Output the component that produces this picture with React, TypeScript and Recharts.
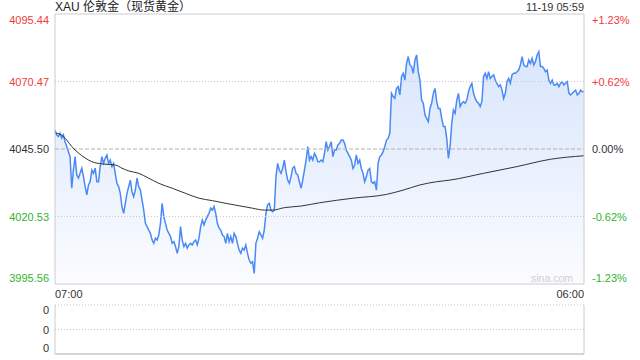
import { ComposedChart, Area, Line, XAxis, YAxis, ReferenceLine } from "recharts"

// XAU spot price, 07:00 -> 05:59 (one point every ~4 min)
const prices = [
  4052.5, 4050.7, 4050.1, 4051.3, 4049.5, 4050.7, 4048.2, 4046.4, 4044.5, 4042.7,
  4031.0, 4037.7, 4042.7, 4035.9, 4034.7, 4036.5, 4038.4, 4035.3, 4031.6, 4028.5,
  4032.2, 4033.4, 4037.7, 4036.5, 4038.4, 4033.4, 4033.4, 4039.0, 4042.7, 4040.2,
  4042.1, 4043.3, 4040.2, 4041.4, 4039.0, 4040.2, 4036.5, 4032.8, 4031.6, 4029.1,
  4024.2, 4021.7, 4025.4, 4029.1, 4031.6, 4034.0, 4029.7, 4027.9, 4030.3, 4034.7,
  4031.6, 4030.3, 4026.6, 4022.9, 4018.0, 4016.8, 4015.5, 4014.3, 4011.8, 4010.6,
  4012.5, 4011.8, 4013.7, 4018.0, 4025.4, 4020.5, 4018.0, 4015.5, 4014.3, 4013.1,
  4010.6, 4011.2, 4009.4, 4006.9, 4009.4, 4016.8, 4011.8, 4009.4,
  4010.6, 4008.8, 4010.0, 4010.6, 4010.0, 4011.2, 4011.8, 4010.0, 4012.5, 4016.8,
  4019.2, 4017.4, 4019.2, 4020.5, 4021.7, 4023.6, 4022.9, 4024.2, 4021.7, 4018.0,
  4016.2, 4015.5, 4013.7, 4013.1, 4010.6, 4014.3, 4011.2, 4013.1, 4010.6, 4014.3,
  4013.1, 4010.6, 4008.1, 4006.9, 4008.8, 4008.1, 4010.0, 4006.9, 4004.4, 4003.2,
  4003.8, 3999.5, 4010.6, 4012.5, 4014.9, 4013.7, 4012.5, 4015.5, 4021.7, 4024.8,
  4025.4, 4022.9, 4022.3, 4022.9, 4035.3, 4040.2, 4037.7, 4036.5, 4038.4, 4041.4,
  4037.1, 4034.0, 4032.8, 4035.3, 4038.4, 4039.0, 4036.5, 4035.9, 4033.4, 4031.0,
  4034.0, 4037.7, 4041.4, 4046.4, 4041.4, 4042.7, 4041.4, 4043.9, 4042.7, 4040.8,
  4040.8,
  4041.4, 4040.8, 4043.9, 4048.2, 4045.1, 4046.4, 4048.2, 4042.7, 4045.1, 4045.1,
  4047.0, 4047.6, 4048.8, 4048.8, 4047.6, 4045.1, 4043.9, 4042.7, 4041.4, 4038.3,
  4039.6, 4043.3, 4040.2, 4041.4, 4038.3, 4036.5, 4033.4, 4035.3, 4037.7, 4038.3,
  4033.4, 4032.8, 4033.4, 4030.3, 4040.2, 4042.7, 4043.3, 4044.5, 4046.4, 4048.8,
  4049.4, 4051.3, 4066.1, 4064.9, 4064.2, 4067.9, 4068.6, 4065.5, 4072.3, 4073.5,
  4071.0, 4077.2, 4079.7, 4076.6, 4076.0, 4073.5, 4078.4, 4080.3, 4074.1, 4071.0,
  4063.6, 4062.4, 4058.1, 4056.8, 4055.6, 4060.5, 4062.4, 4066.1, 4067.9, 4063.0,
  4060.5, 4060.5, 4056.8, 4053.8, 4053.8, 4049.4, 4042.0,
  4046.4, 4055.0, 4059.9, 4058.7, 4063.6, 4066.1, 4061.2, 4062.4, 4063.0, 4062.4,
  4063.6, 4066.7, 4068.6, 4069.8, 4066.1, 4064.2, 4063.0, 4062.4, 4061.2, 4063.0,
  4072.3, 4073.5, 4071.6, 4074.1, 4071.6, 4072.3, 4072.9, 4071.0, 4069.8, 4068.6,
  4069.2, 4067.3, 4064.2, 4066.1, 4070.4, 4071.6, 4069.8, 4072.9, 4073.5, 4073.5,
  4074.1, 4074.7, 4076.6, 4079.7, 4076.6, 4076.0, 4076.0, 4078.4, 4077.2, 4079.0,
  4076.6, 4077.8, 4080.3, 4081.5, 4076.0, 4076.0, 4075.3, 4074.1, 4074.7, 4071.0,
  4069.8, 4071.0, 4069.2, 4069.2, 4069.8, 4068.6, 4069.8, 4070.4, 4069.2, 4069.8,
  4070.4, 4066.1, 4065.5, 4066.1, 4066.7, 4067.3, 4065.5, 4066.1, 4067.3, 4066.7, 4066.7,
]

// average price line (black), sampled at these point indexes
const avgIndex = [
  0, 4, 7, 10, 14, 18, 22, 28, 36, 40, 44, 50, 56, 62, 70, 78, 86, 94, 102, 110,
  118, 125, 130, 137, 147, 158, 178, 198, 208, 218, 228, 236, 256, 276, 296, 316,
]
const avgPrice = [
  4051.4, 4050.7, 4048.8, 4046.4, 4044.0, 4042.2, 4040.8, 4040.0, 4039.6, 4038.4,
  4037.4, 4036.5, 4034.7, 4032.8, 4031.0, 4029.1, 4027.3, 4026.4, 4025.4, 4024.5,
  4023.6, 4022.9, 4022.9, 4023.8, 4024.4, 4025.6, 4027.3, 4028.7, 4030.3, 4032.2,
  4033.4, 4034.0, 4036.5, 4039.0, 4041.7, 4043.0,
]

const prevClose = 4045.5
const priceTicks = [3995.56, 4020.53, 4045.5, 4070.47, 4095.44]
const pctLabels = ["-1.23%", "-0.62%", "0.00%", "+0.62%", "+1.23%"]
const timeLabels = ["07:00", "06:00"]
const volTicks = [0, 1, 2]
const volLabels = ["0", "0", "0"]

const lastIndex = prices.length - 1
const priceData = prices.map((p, i) => ({ i, price: p }))
const avgData = avgIndex.map((i, k) => ({ i, avg: avgPrice[k] }))

const FONT = 'Arial, "Liberation Sans", "Noto Sans CJK SC", sans-serif'
const RED = "#f03c3c"
const GREEN = "#2fb52f"
const BLUE = "#4a8af4"
const BORDER = "#cccccc"

function tickColor(v: number) {
  if (Math.abs(v - prevClose) < 0.001) return "#333"
  return v > prevClose ? RED : GREEN
}

// keep the outermost labels inside the plot box
function edgeShift(idx: number, count: number, top: number, bottom: number) {
  if (idx === count - 1) return top
  if (idx === 0) return -bottom
  return 0
}

function LeftTick(props: any) {
  const { x, y, payload } = props
  const idx = priceTicks.indexOf(payload.value)
  return (
    <text x={x} y={y + edgeShift(idx, priceTicks.length, 6, 6)} dy={4} textAnchor="end"
      fill={tickColor(payload.value)} fontSize={11} fontFamily={FONT}>
      {payload.value.toFixed(2)}
    </text>
  )
}

function RightTick(props: any) {
  const { x, y, payload } = props
  const idx = priceTicks.indexOf(payload.value)
  return (
    <text x={x} y={y + edgeShift(idx, priceTicks.length, 6, 6)} dy={4} textAnchor="start"
      fill={tickColor(payload.value)} fontSize={11} fontFamily={FONT}>
      {pctLabels[idx]}
    </text>
  )
}

function TimeTick(props: any) {
  const { x, y, payload } = props
  const first = payload.value === 0
  return (
    <text x={x} y={y} dy={6} textAnchor={first ? "start" : "end"} fill="#333" fontSize={11} fontFamily={FONT}>
      {timeLabels[first ? 0 : 1]}
    </text>
  )
}

function VolTick(props: any) {
  const { x, y, payload } = props
  const idx = volTicks.indexOf(payload.value)
  return (
    <text x={x} y={y + edgeShift(idx, volTicks.length, 5, 6)} dy={4} textAnchor="end" fill="#333" fontSize={11} fontFamily={FONT}>
      {volLabels[idx]}
    </text>
  )
}

export default function App() {
  return (
    <div style={{ position: "absolute", left: 0, top: 0, width: 640, height: 360, background: "#fff", fontFamily: FONT }}>
      <div style={{ position: "absolute", left: 55, top: 0, fontSize: 12, lineHeight: "14px", color: "#222" }}>
        XAU 伦敦金（现货黄金）
      </div>
      <div style={{ position: "absolute", right: 56, top: 1, fontSize: 11, lineHeight: "13px", color: "#333" }}>
        11-19 05:59
      </div>

      <div style={{ position: "absolute", left: 0, top: 0 }}>
        <ComposedChart width={640} height={304} data={priceData} margin={{ top: 14, right: 0, bottom: 4, left: 0 }}>
          <defs>
            <linearGradient id="priceFill" gradientUnits="userSpaceOnUse" x1="0" y1="14" x2="0" y2="284">
              <stop offset="0%" stopColor="#d3e2fb" />
              <stop offset="100%" stopColor="#fbfcff" />
            </linearGradient>
          </defs>
          <XAxis dataKey="i" type="number" domain={[0, lastIndex]} ticks={[0, lastIndex]} interval={0} height={16}
            axisLine={{ stroke: BORDER }} tickLine={false} tick={<TimeTick />} />
          <YAxis yAxisId="l" width={55} domain={[priceTicks[0], priceTicks[4]]} ticks={priceTicks} interval={0}
            allowDataOverflow axisLine={{ stroke: BORDER }} tickLine={false} tickSize={4} tick={<LeftTick />} />
          <YAxis yAxisId="r" orientation="right" width={56} domain={[priceTicks[0], priceTicks[4]]} ticks={priceTicks}
            interval={0} allowDataOverflow axisLine={{ stroke: BORDER }} tickLine={false} tickSize={6} tick={<RightTick />} />
          <ReferenceLine yAxisId="l" y={priceTicks[4]} stroke={BORDER} />
          <Area yAxisId="l" type="linear" dataKey="price" stroke={BLUE} strokeWidth={1.5} fill="url(#priceFill)"
            fillOpacity={1} dot={false} activeDot={false} isAnimationActive={false} />
          <ReferenceLine yAxisId="l" y={priceTicks[3]} stroke="#c8c8c8" strokeDasharray="1 2" />
          <ReferenceLine yAxisId="l" y={priceTicks[2]} stroke="#b0b0b0" strokeDasharray="4 2" />
          <ReferenceLine yAxisId="l" y={priceTicks[1]} stroke="#c8c8c8" strokeDasharray="1 2" />
          <Line yAxisId="l" data={avgData} type="monotone" dataKey="avg" stroke="#333" strokeWidth={1}
            dot={false} activeDot={false} isAnimationActive={false} />
        </ComposedChart>
      </div>

      <div style={{ position: "absolute", right: 67, top: 272, fontSize: 10.5, lineHeight: "13px", color: "#cfcfcf" }}>
        sina.com
      </div>

      <div style={{ position: "absolute", left: 0, top: 300 }}>
        <ComposedChart width={640} height={60} data={priceData} margin={{ top: 5, right: 0, bottom: 6, left: 0 }}>
          <XAxis dataKey="i" type="number" domain={[0, lastIndex]} hide />
          <YAxis yAxisId="v" width={55} domain={[0, 2]} ticks={volTicks} interval={0} allowDataOverflow
            axisLine={{ stroke: BORDER }} tickLine={false} tickSize={4} tick={<VolTick />} />
          <YAxis yAxisId="vr" orientation="right" width={56} domain={[0, 2]} allowDataOverflow
            axisLine={{ stroke: BORDER }} tickLine={false} tick={false} />
          <ReferenceLine yAxisId="v" y={2} stroke="#c8c8c8" strokeDasharray="1 2" />
          <ReferenceLine yAxisId="v" y={1} stroke="#c8c8c8" strokeDasharray="1 2" />
          <ReferenceLine yAxisId="v" y={0} stroke="#aaaaaa" />
        </ComposedChart>
      </div>
    </div>
  )
}
